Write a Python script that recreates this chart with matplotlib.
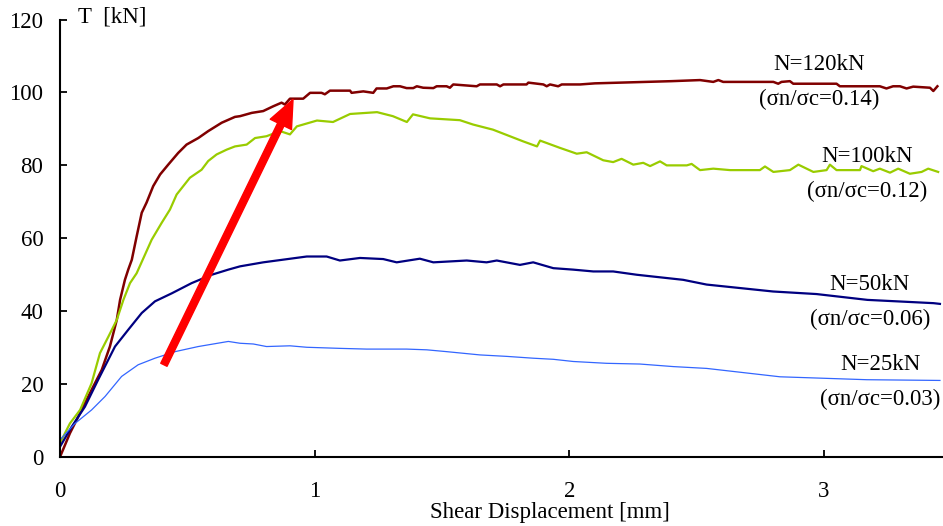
import matplotlib
matplotlib.use("Agg")
import matplotlib.pyplot as plt

plt.rcParams['font.family'] = ['Liberation Serif', 'DejaVu Serif']

# shear test curves, T [kN] vs shear displacement [mm]
x_120 = [0, 0.039, 0.085, 0.124, 0.164, 0.196, 0.223, 0.236, 0.255, 0.268, 0.282, 0.301,
         0.321, 0.340, 0.366, 0.393, 0.425, 0.464, 0.497, 0.543, 0.582, 0.635, 0.687, 0.707,
         0.753, 0.798, 0.837, 0.870, 0.883, 0.903, 0.955, 0.982, 1.027, 1.040, 1.060, 1.139,
         1.145, 1.191, 1.230, 1.243, 1.283, 1.309, 1.335, 1.361, 1.387, 1.401, 1.426, 1.466,
         1.479, 1.518, 1.531, 1.544, 1.636, 1.649, 1.715, 1.728, 1.741, 1.832, 1.839, 1.898,
         1.911, 1.924, 1.956, 1.970, 2.042, 2.10, 2.20, 2.30, 2.40, 2.513, 2.565, 2.585,
         2.604, 2.801, 2.820, 2.833, 2.866, 2.879, 3.049, 3.062, 3.219, 3.245, 3.271, 3.298,
         3.324, 3.350, 3.416, 3.429, 3.445]
t_120 = [0, 6.5, 12.9, 18.4, 23.9, 30.3, 37.6, 43.1, 48.6, 51.4, 54.1, 60.5,
         67.0, 69.8, 74.3, 77.5, 80.2, 83.4, 85.7, 87.5, 89.4, 91.7, 93.3, 93.5,
         94.4, 94.9, 96.2, 97.2, 96.7, 98.3, 98.3, 99.9, 99.9, 99.5, 100.5, 100.5,
         99.9, 100.3, 99.9, 101.1, 101.1, 101.7, 101.7, 101.2, 101.2, 101.7, 101.3, 101.2,
         101.7, 101.7, 101.3, 102.2, 101.7, 102.2, 102.2, 101.7, 102.2, 102.2, 102.7, 102.2,
         101.7, 102.2, 101.7, 102.2, 102.2, 102.5, 102.7, 102.9, 103.1, 103.4, 102.9, 103.4,
         102.9, 102.9, 102.4, 102.9, 103.1, 102.4, 102.4, 101.7, 101.7, 101.1, 101.7, 101.7,
         101.1, 101.6, 101.3, 100.4, 101.7]

x_100 = [0, 0.039, 0.079, 0.124, 0.157, 0.190, 0.223, 0.249, 0.275, 0.301, 0.360, 0.399,
         0.432, 0.458, 0.510, 0.556, 0.582, 0.615, 0.654, 0.687, 0.733, 0.766, 0.811, 0.864,
         0.903, 0.930, 1.009, 1.072, 1.139, 1.245, 1.307, 1.362, 1.386, 1.453, 1.570, 1.622,
         1.700, 1.818, 1.873, 1.885, 1.963, 2.029, 2.068, 2.133, 2.172, 2.205, 2.251, 2.290,
         2.317, 2.356, 2.382, 2.461, 2.480, 2.513, 2.565, 2.631, 2.748, 2.768, 2.801, 2.866,
         2.899, 2.958, 3.010, 3.023, 3.049, 3.141, 3.147, 3.193, 3.219, 3.259, 3.291, 3.337,
         3.383, 3.409, 3.448]
t_100 = [3.8, 9.2, 12.9, 20.2, 28.5, 33.0, 37.6, 43.1, 47.7, 50.4, 59.6, 64.2,
         67.9, 72.0, 76.6, 78.8, 81.2, 83.0, 84.3, 85.2, 85.7, 87.5, 88.0, 89.4,
         88.5, 90.7, 92.3, 91.9, 94.1, 94.6, 93.5, 91.9, 94.0, 92.9, 92.4, 91.2,
         89.8, 86.6, 85.2, 86.8, 84.8, 83.2, 83.6, 81.4, 80.9, 81.8, 80.2, 80.7,
         79.8, 81.1, 80.0, 80.0, 80.4, 78.7, 79.1, 78.7, 78.7, 79.7, 78.2, 78.7,
         80.2, 78.2, 78.7, 80.2, 78.7, 78.7, 79.8, 78.4, 79.1, 78.0, 79.1, 77.7,
         78.2, 79.1, 78.2]

x_50 = [0, 0.046, 0.098, 0.150, 0.216, 0.268, 0.321, 0.373, 0.439, 0.517, 0.596, 0.661,
        0.707, 0.798, 0.969, 1.047, 1.099, 1.178, 1.269, 1.322, 1.413, 1.466, 1.597, 1.675,
        1.715, 1.806, 1.858, 1.937, 2.015, 2.094, 2.172, 2.264, 2.329, 2.447, 2.539, 2.80,
        2.97, 3.17, 3.43, 3.455]
t_50 = [2.8, 8.3, 13.8, 21.2, 30.3, 34.9, 39.5, 42.7, 44.9, 47.7, 50.0, 51.4,
        52.3, 53.4, 55.0, 55.0, 53.9, 54.6, 54.3, 53.4, 54.4, 53.4, 53.9, 53.4,
        53.9, 52.7, 53.4, 51.8, 51.4, 50.9, 50.9, 50.0, 49.5, 48.6, 47.3, 45.4,
        44.7, 43.1, 42.2, 42.0]

x_25 = [0, 0.059, 0.124, 0.177, 0.242, 0.307, 0.373, 0.452, 0.543, 0.661, 0.707, 0.759,
        0.811, 0.903, 0.969, 1.099, 1.204, 1.361, 1.440, 1.518, 1.649, 1.754, 1.858, 1.937,
        2.015, 2.146, 2.277, 2.408, 2.539, 2.827, 3.168, 3.455]
t_25 = [4.7, 9.2, 12.9, 16.6, 22.1, 25.3, 27.1, 28.9, 30.3, 31.7, 31.2, 31.0,
        30.3, 30.5, 30.1, 29.8, 29.6, 29.6, 29.4, 28.9, 28.0, 27.6, 27.1, 26.8,
        26.2, 25.7, 25.5, 24.8, 24.3, 22.0, 21.2, 21.0]

names = ["N=120kN", "N=100kN", "N=50kN", "N=25kN"]
ratios = ["0.14", "0.12", "0.06", "0.03"]
label_x = [2.98, 3.17, 3.18, 3.22]
label_y = [107.7, 82.5, 47.3, 25.3]

fig = plt.figure(figsize=(9.43, 5.26), dpi=100)
ax = fig.add_axes([0.0636, 0.1312, 0.9364, 0.8316])

ax.plot(x_120, t_120, color="#800000", lw=1.8)
ax.plot(x_100, t_100, color="#99CC00", lw=1.6)
ax.plot(x_50, t_50, color="#000080", lw=1.6)
ax.plot(x_25, t_25, color="#3366FF", lw=0.9)

for name, r, lx, ly in zip(names, ratios, label_x, label_y):
    ax.text(lx, ly, name, ha="center", va="center", fontsize=16.5)
    ax.text(lx, ly - 9.6, "(\u03c3n/\u03c3c=" + r + ")", ha="center", va="center",
            fontsize=16.5, clip_on=False)

# arrow pointing towards increasing normal load
ax.annotate("", xy=(0.915, 98.1), xytext=(0.408, 25.3),
            arrowprops=dict(facecolor="#FF0000", edgecolor="#FF0000", width=5,
                            headwidth=17, headlength=20, shrink=0))

ax.set_xlim(0, 3.467)
ax.set_ylim(0, 120)
ax.set_xticks([0, 1, 2, 3])
ax.set_yticks(range(0, 121, 20))
ax.spines["top"].set_visible(False)
ax.spines["right"].set_visible(False)
ax.spines["left"].set_linewidth(1.5)
ax.spines["bottom"].set_linewidth(1.5)
ax.tick_params(axis="x", direction="in", length=5, width=1.3, pad=17, labelsize=16.5)
ax.tick_params(axis="y", direction="in", length=5, width=1.3, pad=12, labelsize=16.5)

ax.set_xlabel("Shear Displacement [mm]", fontsize=16.5)
ax.xaxis.set_label_coords(0.555, -0.103)
fig.text(0.083, 0.967, "T  [kN]", ha="left", va="center", fontsize=16.5)

fig.savefig("out.png", dpi=100)
